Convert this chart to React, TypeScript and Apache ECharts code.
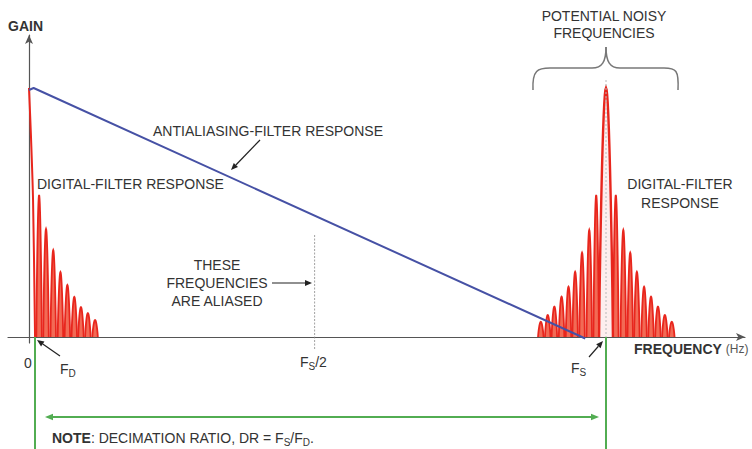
import React, { useEffect, useRef } from "react";
import * as echarts from "echarts";

// Axis domain (frequency in % of Fs, gain normalised to 1)
const X_MIN = -3.64;
const X_MAX = 124.09;
const Y_MIN = -0.0241;
const Y_MAX = 1.2129;

const FD = 1.04;
const FS = 100;
const FS_HALF = 49.5;

// Digital-filter response around DC: half main lobe + sidelobes
const leftMainLobe: [number, number][] = [
  [0, 1.0],
  [0.35, 0.8],
  [0.7, 0.55],
  [1.05, 0],
];
const leftLobeCenters = [1.75, 2.95, 4.2, 5.45, 6.65, 7.85, 9.0, 10.2, 11.45];
const leftLobeHeights = [0.57, 0.434, 0.349, 0.261, 0.209, 0.161, 0.12, 0.096, 0.068];

// Digital-filter response around Fs
const rightMainLobe = { center: 100, height: 1.0, halfWidth: 1.2 };
const rightLobeCentersBelow = [98.3, 97.1, 95.85, 94.65, 93.5, 92.3, 91.05, 89.9, 88.7];
const rightLobeCentersAbove = [101.7, 103.0, 104.2, 105.35, 106.6, 107.8, 109.0, 110.2, 111.4];
const rightLobeHeights = [0.57, 0.43, 0.339, 0.262, 0.202, 0.162, 0.122, 0.088, 0.061];

// Antialiasing filter response
const antialiasResponse: [number, number][] = [
  [0, 0.992],
  [0.8, 1.0],
  [96.4, -0.006],
];

const LOBE_HALF_WIDTH = 0.48;
const RED = "#e8261d";
const RED_FILL = "#f26a55";
const BLUE = "#4651a5";
const GREEN = "#52ad52";
const TEXT = "#333333";
const FONT = "'Liberation Sans', Arial, sans-serif";

export default function App() {
  const ref = useRef<HTMLDivElement>(null);

  useEffect(() => {
    if (!ref.current) return;
    const chart = echarts.init(ref.current, undefined, { renderer: "svg" });

    const lobeItems: number[][] = [];
    leftLobeCenters.forEach((c, i) => lobeItems.push([c, leftLobeHeights[i], LOBE_HALF_WIDTH]));
    rightLobeCentersBelow.forEach((c, i) => lobeItems.push([c, rightLobeHeights[i], LOBE_HALF_WIDTH]));
    rightLobeCentersAbove.forEach((c, i) => lobeItems.push([c, rightLobeHeights[i], LOBE_HALF_WIDTH]));

    const makeRender = (fill: string, lw: number) => (params: any, api: any) => {
      const c = api.value(0);
      const h = api.value(1);
      const w = api.value(2);
      const pts: number[][] = [];
      const N = 24;
      for (let k = 0; k <= N; k++) {
        const t = -1 + (2 * k) / N;
        pts.push(api.coord([c + w * t, h * Math.pow(Math.cos((Math.PI * t) / 2), 0.8)]));
      }
      return {
        type: "group",
        children: [
          { type: "polygon", shape: { points: pts }, style: { fill, stroke: "none" } },
          { type: "polyline", shape: { points: pts }, style: { fill: "none", stroke: RED, lineWidth: lw } },
        ],
      };
    };

    chart.setOption({
      animation: false,
      grid: { left: 8, right: 7, top: 35, bottom: 106 },
      xAxis: {
        type: "value",
        min: X_MIN,
        max: X_MAX,
        axisLine: {
          show: true,
          onZero: true,
          symbol: ["none", "arrow"],
          symbolSize: [6, 9],
          lineStyle: { color: "#555", width: 1.2 },
        },
        axisTick: { show: false },
        axisLabel: { show: false },
        splitLine: { show: false },
      },
      yAxis: {
        type: "value",
        min: Y_MIN,
        max: Y_MAX,
        axisLine: {
          show: true,
          onZero: true,
          symbol: ["none", "arrow"],
          symbolSize: [6, 9],
          lineStyle: { color: "#555", width: 1.2 },
        },
        axisTick: { show: false },
        axisLabel: { show: false },
        splitLine: { show: false },
      },
      series: [
        {
          type: "custom",
          name: "sidelobes",
          renderItem: makeRender(RED_FILL, 1.8),
          data: lobeItems,
          clip: false,
          z: 3,
        },
        {
          type: "custom",
          name: "mainlobe",
          renderItem: makeRender("#fdeeee", 2.4),
          data: [[rightMainLobe.center, rightMainLobe.height, rightMainLobe.halfWidth]],
          clip: false,
          z: 3,
        },
        {
          type: "line",
          name: "leftmain",
          data: leftMainLobe,
          smooth: 0.3,
          symbol: "none",
          lineStyle: { color: RED, width: 2 },
          z: 3,
        },
        {
          type: "line",
          name: "antialias",
          data: antialiasResponse,
          symbol: "none",
          lineStyle: { color: BLUE, width: 2 },
          z: 4,
        },
      ],
    });

    const p = (x: number, y: number) => chart.convertToPixel({ gridIndex: 0 }, [x, y]) as number[];
    const zeroY = p(0, 0)[1];
    const fdX = p(FD, 0)[0];
    const fsX = p(FS, 0)[0];
    const fsHalfX = p(FS_HALF, 0)[0];
    const peakY = p(0, 1)[1];

    const arrow = (x1: number, y1: number, x2: number, y2: number, color: string, width = 1, size = 6) => {
      const dx = x2 - x1;
      const dy = y2 - y1;
      const len = Math.hypot(dx, dy);
      const ux = dx / len;
      const uy = dy / len;
      const bx = x2 - ux * size;
      const by = y2 - uy * size;
      const px = -uy * size * 0.42;
      const py = ux * size * 0.42;
      return [
        { type: "line", z: 100, shape: { x1, y1, x2: bx, y2: by }, style: { stroke: color, lineWidth: width } },
        {
          type: "polygon",
          z: 100,
          shape: { points: [[x2, y2], [bx + px, by + py], [bx - px, by - py]] },
          style: { fill: color },
        },
      ];
    };

    const txt = (text: string, x: number, y: number, opts: any = {}) => ({
      type: "text",
      z: 100,
      x,
      y,
      style: {
        text,
        fontFamily: FONT,
        fontSize: 14,
        fill: TEXT,
        align: "left",
        verticalAlign: "middle",
        ...opts,
      },
    });

    const subRich = {
      a: { fontFamily: FONT, fontSize: 14, fill: TEXT, lineHeight: 18, verticalAlign: "middle" },
      b: { fontFamily: FONT, fontSize: 14, fontWeight: "bold", fill: TEXT, lineHeight: 18, verticalAlign: "middle" },
      s: { fontFamily: FONT, fontSize: 10, fill: TEXT, lineHeight: 12, verticalAlign: "bottom" },
    };

    const brace = [
      { x1: 533, y1: 90, cpx1: 532, cpy1: 70, cpx2: 538, cpy2: 68, x2: 550, y2: 68 },
      { x1: 592, y1: 68, cpx1: 602, cpy1: 68, cpx2: 606, cpy2: 62, x2: 606, y2: 47 },
      { x1: 606, y1: 47, cpx1: 606, cpy1: 62, cpx2: 610, cpy2: 68, x2: 620, y2: 68 },
      { x1: 664, y1: 68, cpx1: 676, cpy1: 68, cpx2: 679, cpy2: 70, x2: 678, y2: 90 },
    ];

    const graphic: any[] = [
      // brace
      ...brace.map((s) => ({ type: "bezierCurve", z: 100, shape: s, style: { stroke: "#777", lineWidth: 1.5, fill: "none" } })),
      { type: "line", z: 100, shape: { x1: 550, y1: 68, x2: 592, y2: 68 }, style: { stroke: "#777", lineWidth: 1.5 } },
      { type: "line", z: 100, shape: { x1: 620, y1: 68, x2: 664, y2: 68 }, style: { stroke: "#777", lineWidth: 1.5 } },
      // center line at Fs
      {
        type: "line",
        z: 100,
        shape: { x1: fsX, y1: peakY - 8, x2: fsX, y2: zeroY },
        style: { stroke: "#b8b8b8", lineWidth: 1, lineDash: [2, 2] },
      },
      // Fs/2 marker
      {
        type: "line",
        z: 100,
        shape: { x1: fsHalfX, y1: 235, x2: fsHalfX, y2: zeroY + 12 },
        style: { stroke: "#888", lineWidth: 0.8, lineDash: [2, 1.5] },
      },
      // green decimation lines
      { type: "line", z: 100, shape: { x1: fdX, y1: zeroY, x2: fdX, y2: 449 }, style: { stroke: GREEN, lineWidth: 2 } },
      { type: "line", z: 100, shape: { x1: fsX, y1: zeroY, x2: fsX, y2: 449 }, style: { stroke: GREEN, lineWidth: 2 } },
      ...arrow(322, 417, 45, 417, GREEN, 2, 8),
      ...arrow(322, 417, 599, 417, GREEN, 2, 8),
      // annotation arrows
      ...arrow(260, 140, 231, 170, "#222", 1.2, 7),
      ...arrow(272, 283, 312, 283, "#222", 1.2, 7),
      ...arrow(60, 356, 37, 340, "#222", 1.2, 7),
      ...arrow(589, 357, 603, 341, "#222", 1.2, 7),
      // texts
      txt("GAIN", 8, 26, { fontWeight: "bold", fontSize: 14 }),
      txt("ANTIALIASING-FILTER RESPONSE", 153, 131),
      txt("DIGITAL-FILTER RESPONSE", 37, 184),
      txt("THESE\nFREQUENCIES\nARE ALIASED", 217, 283, { align: "center", lineHeight: 18 }),
      txt("POTENTIAL NOISY\nFREQUENCIES", 604, 24, { align: "center", lineHeight: 17 }),
      txt("DIGITAL-FILTER\nRESPONSE", 680, 193, { align: "center", lineHeight: 19 }),
      txt("0", 28, 363, { align: "center" }),
      txt("{a|F}{s|D}", 60, 369, { rich: subRich }),
      txt("{a|F}{s|S}{a|/2}", 300, 362, { rich: subRich }),
      txt("{a|F}{s|S}", 571, 368, { rich: subRich }),
      txt("{b|FREQUENCY} {h|(Hz)}", 634, 349, {
        rich: {
          b: { fontFamily: FONT, fontSize: 14, fontWeight: "bold", fill: TEXT },
          h: { fontFamily: FONT, fontSize: 12, fill: "#555" },
        },
      }),
      txt("{b|NOTE}{a|: DECIMATION RATIO, DR = F}{s|S}{a|/F}{s|D}{a|.}", 52, 438, { rich: subRich }),
    ];

    chart.setOption({ graphic });

    return () => chart.dispose();
  }, []);

  return (
    <div
      ref={ref}
      style={{ position: "fixed", left: 0, top: 0, width: 752, height: 449, background: "#fff" }}
    />
  );
}
